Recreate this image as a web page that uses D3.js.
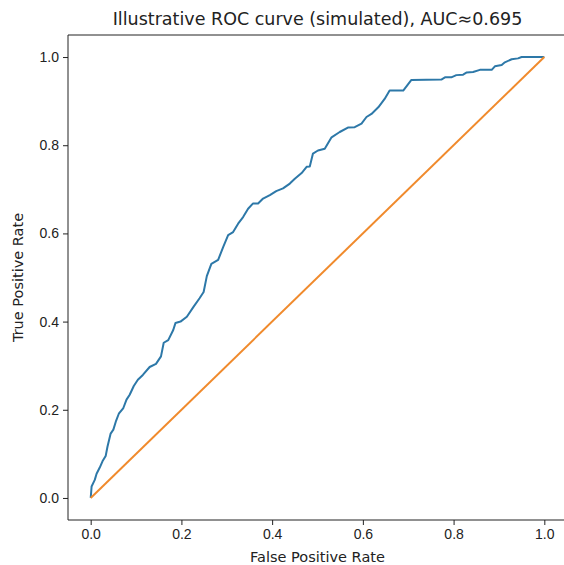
<!DOCTYPE html>
<html>
<head>
<meta charset="utf-8">
<script src="https://cdn.jsdelivr.net/npm/d3@7"></script>
<style>
  html, body { margin: 0; padding: 0; background: #fff; overflow: hidden; }
  svg { display: block; font-family: "DejaVu Sans", sans-serif; }
  .tick text { font-size: 14px; fill: #222; }
  .tick line { stroke: #222; }
  .domain { stroke: #222; }
</style>
</head>
<body>
<div id="chart"></div>
<script>
// ROC curve points (false positive rate, true positive rate)
const fpr = [0, 0.001, 0.002, 0.009, 0.013, 0.020, 0.026, 0.033, 0.037, 0.044, 0.050, 0.056,
  0.062, 0.072, 0.079, 0.086, 0.095, 0.104, 0.115, 0.130, 0.144, 0.155, 0.161, 0.171, 0.182,
  0.187, 0.198, 0.212, 0.227, 0.240, 0.249, 0.256, 0.266, 0.281, 0.292, 0.303, 0.314, 0.325,
  0.336, 0.347, 0.358, 0.369, 0.380, 0.395, 0.409, 0.424, 0.439, 0.450, 0.465, 0.476, 0.483,
  0.490, 0.501, 0.516, 0.531, 0.549, 0.567, 0.582, 0.597, 0.608, 0.619, 0.634, 0.648, 0.659,
  0.689, 0.707, 0.773, 0.781, 0.795, 0.806, 0.821, 0.829, 0.843, 0.858, 0.884, 0.891, 0.906,
  0.913, 0.928, 0.942, 0.950, 1.0];
const tpr = [0, 0.012, 0.026, 0.041, 0.055, 0.069, 0.083, 0.095, 0.116, 0.146, 0.155, 0.175,
  0.191, 0.204, 0.223, 0.234, 0.254, 0.268, 0.279, 0.297, 0.304, 0.321, 0.352, 0.358, 0.381,
  0.397, 0.400, 0.411, 0.434, 0.453, 0.467, 0.503, 0.531, 0.540, 0.569, 0.596, 0.603, 0.622,
  0.637, 0.656, 0.668, 0.668, 0.679, 0.687, 0.696, 0.702, 0.713, 0.724, 0.737, 0.751, 0.752,
  0.781, 0.788, 0.792, 0.818, 0.830, 0.840, 0.841, 0.849, 0.864, 0.871, 0.886, 0.905, 0.924,
  0.924, 0.948, 0.949, 0.954, 0.954, 0.959, 0.960, 0.965, 0.966, 0.971, 0.971, 0.979, 0.982,
  0.988, 0.995, 0.997, 1.0, 1.0];
// chance diagonal
const chanceX = [0, 1];
const chanceY = [0, 1];
const ticks = [0, 0.2, 0.4, 0.6, 0.8, 1.0];
const title = "Illustrative ROC curve (simulated), AUC\u22480.695";

const W = 564, H = 565;
// the right edge of the axes box sits just past the picture (the original is cropped there)
const m = { left: 68, right: -3, top: 35, bottom: 45 };

const svg = d3.select("#chart").append("svg")
  .attr("width", W).attr("height", H);

const x = d3.scaleLinear().domain([-0.05, 1.05]).range([m.left, W - m.right]);
const y = d3.scaleLinear().domain([-0.05, 1.05]).range([H - m.bottom, m.top]);

// axes (matplotlib style: short outward ticks)
svg.append("g")
  .attr("transform", `translate(0,${H - m.bottom})`)
  .call(d3.axisBottom(x).tickValues(ticks).tickFormat(d3.format(".1f")).tickSize(5).tickPadding(4))
  .call(g => g.select(".domain").attr("d", `M${x.range()[0]},0H${x.range()[1]}`));
svg.append("g")
  .attr("transform", `translate(${m.left},0)`)
  .call(d3.axisLeft(y).tickValues(ticks).tickFormat(d3.format(".1f")).tickSize(5).tickPadding(4))
  .call(g => g.select(".domain").attr("d", `M0,${y.range()[0]}V${y.range()[1]}`));
svg.append("line")
  .attr("x1", m.left).attr("x2", W - m.right)
  .attr("y1", m.top).attr("y2", m.top)
  .attr("stroke", "#222");

const line = d3.line().x(d => x(d[0])).y(d => y(d[1]));

svg.append("path")
  .datum(d3.zip(fpr, tpr))
  .attr("d", line)
  .attr("fill", "none")
  .attr("stroke", "#2d78a8")
  .attr("stroke-width", 2)
  .attr("stroke-linejoin", "round");

svg.append("path")
  .datum(d3.zip(chanceX, chanceY))
  .attr("d", line)
  .attr("fill", "none")
  .attr("stroke", "#f08a2c")
  .attr("stroke-width", 2);

// texts
const cx = (x.range()[0] + x.range()[1]) / 2;
svg.append("text")
  .attr("x", cx).attr("y", 25)
  .attr("text-anchor", "middle")
  .attr("font-size", 17.5).attr("fill", "#222")
  .text(title);
svg.append("text")
  .attr("x", cx).attr("y", 562)
  .attr("text-anchor", "middle")
  .attr("font-size", 14.5).attr("fill", "#222")
  .text("False Positive Rate");
svg.append("text")
  .attr("transform", `translate(23,${(y.range()[0] + y.range()[1]) / 2}) rotate(-90)`)
  .attr("text-anchor", "middle")
  .attr("font-size", 14.5).attr("fill", "#222")
  .text("True Positive Rate");
</script>
</body>
</html>
